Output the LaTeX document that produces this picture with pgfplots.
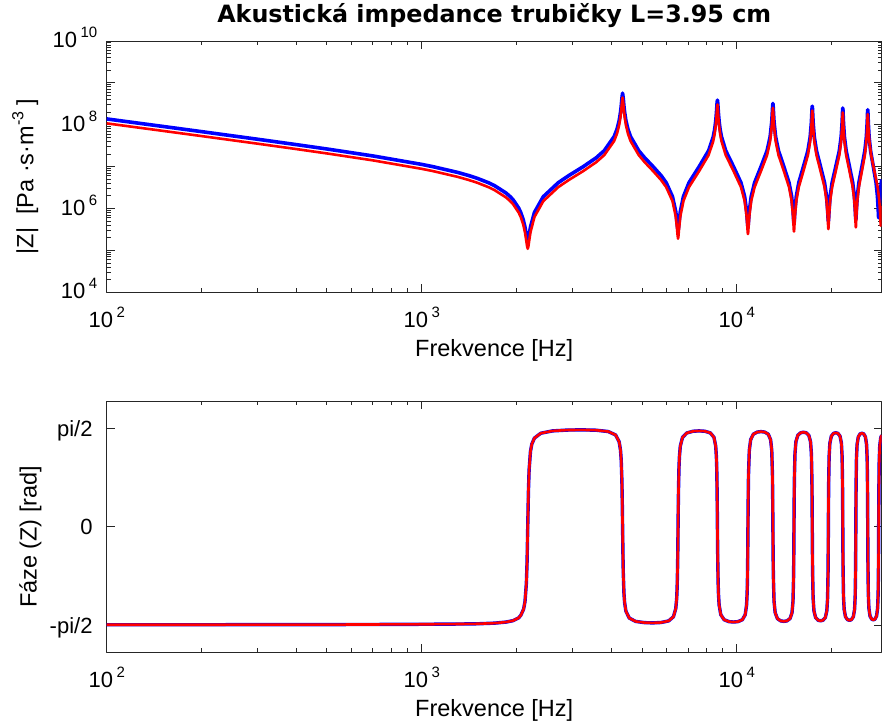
\documentclass[border=0pt]{standalone}
\usepackage{fontspec}
\setmainfont{Liberation Sans}
\newfontfamily\titlefont{DejaVu Sans}
\usepackage{pgfplots}
\usepackage{pgfplotstable}
\pgfplotsset{compat=1.18}

% |Z| is stored as log10 of the value (10^4 ... 10^10)
\pgfplotstableread{
f L
100 8.1396
150 7.9626
200 7.8363
300 7.6563
400 7.5259
500 7.4218
700 7.2557
1000 7.0536
1085 7.0000
1300 6.8626
1410.5 6.7873
1500 6.7218
1627.5 6.6173
1700 6.5490
1850 6.3727
1909.6 6.2823
1950 6.2083
2030 6.0136
2061.5 5.9063
2100 5.7292
2126.6 5.5552
2148.3 5.3698
2160 5.2748
2170 5.2400
2180 5.2748
2191.7 5.3698
2213.4 5.5552
2278.5 5.9063
2430.4 6.2823
2712.5 6.6173
2929.5 6.7873
3255 7.0000
3580.5 7.2127
3797.5 7.3827
4079.6 7.7177
4166.4 7.8943
4231.5 8.0935
4274.9 8.2983
4296.6 8.4438
4318.3 8.6280
4340 8.7560
4361.7 8.6280
4383.4 8.4438
4405.1 8.2983
4448.5 8.0935
4513.6 7.8943
4600.4 7.7177
4882.5 7.3827
5099.5 7.2127
5425 7.0000
5750.5 6.7873
5967.5 6.6185
6249.6 6.2859
6401.5 5.9258
6466.6 5.6393
6488.3 5.5320
6510 5.4800
6531.7 5.5320
6553.4 5.6393
6618.5 5.9258
6770.4 6.2859
7052.5 6.6185
7595 7.0000
8137.5 7.3819
8419.6 7.7156
8506.4 7.8897
8571.5 8.0820
8614.9 8.2700
8636.6 8.3915
8658.3 8.5212
8680 8.5900
8701.7 8.5212
8723.4 8.3915
8745.1 8.2700
8788.5 8.0820
8853.6 7.8897
8940.4 7.7156
9222.5 7.3819
9765 7.0000
10307.5 6.6190
10589.6 6.2886
10741.5 5.9398
10806.6 5.6875
10828.3 5.6062
10850 5.5700
10871.7 5.6062
10893.4 5.6875
10958.5 5.9398
11110.4 6.2886
11392.5 6.6190
11935 7.0000
12477.5 7.3815
12759.6 7.7139
12911.5 8.0729
12976.6 8.3558
12998.3 8.4601
13020 8.5100
13041.7 8.4601
13063.4 8.3558
13128.5 8.0729
13280.4 7.7139
13562.5 7.3815
14105 7.0000
14647.5 6.6196
14929.6 6.2916
15081.5 5.9543
15146.6 5.7310
15168.3 5.6669
15190 5.6400
15211.7 5.6669
15233.4 5.7310
15298.5 5.9543
15450.4 6.2916
15732.5 6.6196
16275 7.0000
16817.5 7.3811
17099.6 7.7119
17251.5 8.0630
17316.6 8.3213
17338.3 8.4069
17360 8.4450
17381.7 8.4069
17403.4 8.3213
17468.5 8.0630
17620.4 7.7119
17902.5 7.3811
18445 7.0000
18987.5 6.6203
19269.6 6.2950
19421.5 5.9699
19486.6 5.7719
19508.3 5.7203
19530 5.7000
19551.7 5.7203
19573.4 5.7719
19638.5 5.9699
19790.4 6.2950
20072.5 6.6203
20615 7.0000
21157.5 7.3808
21439.6 7.7102
21591.5 8.0546
21656.6 8.2949
21678.3 8.3687
21700 8.4000
21721.7 8.3687
21743.4 8.2949
21808.5 8.0546
21960.4 7.7102
22242.5 7.3808
22785 7.0000
23327.5 6.6210
23609.6 6.2978
23761.5 5.9823
23826.6 5.8017
23848.3 5.7574
23870 5.7400
23891.7 5.7574
23913.4 5.8017
23978.5 5.9823
24130.4 6.2978
24412.5 6.6210
24955 7.0000
25497.5 7.3804
25779.6 7.7084
25931.5 8.0457
25996.6 8.2690
26018.3 8.3331
26040 8.3600
26061.7 8.3331
26083.4 8.2690
26148.5 8.0457
26300.4 7.7084
26582.5 7.3804
27125 7.0000
27667.5 6.6218
27949.6 6.3012
28101.5 5.9963
28166.6 5.8325
28188.3 5.7946
28210 5.7800
28231.7 5.7946
28253.4 5.8325
28318.5 5.9963
28470.4 6.3012
28752.5 6.6218
28840 6.6938
}\magblue

\pgfplotstableread{
f L
100 8.0336
150 7.8566
200 7.7303
300 7.5503
400 7.4199
500 7.3158
700 7.1497
1000 6.9476
1085 6.8940
1300 6.7566
1410.5 6.6813
1500 6.6158
1627.5 6.5113
1700 6.4430
1850 6.2667
1909.6 6.1757
1950 6.1014
2030 5.9054
2061.5 5.7968
2100 5.6150
2126.6 5.4306
2148.3 5.2171
2160 5.0916
2170 5.0400
2180 5.0916
2191.7 5.2171
2213.4 5.4306
2278.5 5.7968
2430.4 6.1757
2712.5 6.5113
2929.5 6.6813
3255 6.8940
3580.5 7.1067
3797.5 7.2767
4079.6 7.6117
4166.4 7.7883
4231.5 7.9875
4274.9 8.1923
4296.6 8.3378
4318.3 8.5220
4340 8.6500
4361.7 8.5220
4383.4 8.3378
4405.1 8.1923
4448.5 7.9875
4513.6 7.7883
4600.4 7.6117
4882.5 7.2767
5099.5 7.1067
5425 6.8940
5750.5 6.6813
5967.5 6.5123
6249.6 6.1780
6401.5 5.8097
6466.6 5.4930
6488.3 5.3553
6510 5.2800
6531.7 5.3553
6553.4 5.4930
6618.5 5.8097
6770.4 6.1780
7052.5 6.5123
7595 6.8940
8137.5 7.2759
8419.6 7.6096
8506.4 7.7837
8571.5 7.9760
8614.9 8.1640
8636.6 8.2855
8658.3 8.4152
8680 8.4840
8701.7 8.4152
8723.4 8.2855
8745.1 8.1640
8788.5 7.9760
8853.6 7.7837
8940.4 7.6096
9222.5 7.2759
9765 6.8940
10307.5 6.5130
10589.6 6.1803
10741.5 5.8218
10806.6 5.5410
10828.3 5.4383
10850 5.3900
10871.7 5.4383
10893.4 5.5410
10958.5 5.8218
11110.4 6.1803
11392.5 6.5130
11935 6.8940
12477.5 7.2755
12759.6 7.6079
12911.5 7.9669
12976.6 8.2498
12998.3 8.3541
13020 8.4040
13041.7 8.3541
13063.4 8.2498
13128.5 7.9669
13280.4 7.6079
13562.5 7.2755
14105 6.8940
14647.5 6.5129
14929.6 6.1821
15081.5 5.8310
15146.6 5.5727
15168.3 5.4871
15190 5.4500
15211.7 5.4871
15233.4 5.5727
15298.5 5.8310
15450.4 6.1821
15732.5 6.5129
16275 6.8940
16817.5 7.2751
17099.6 7.6059
17251.5 7.9570
17316.6 8.2153
17338.3 8.3009
17360 8.3390
17381.7 8.3009
17403.4 8.2153
17468.5 7.9570
17620.4 7.6059
17902.5 7.2751
18445 6.8940
18987.5 6.5134
19269.6 6.1845
19421.5 5.8428
19486.6 5.6091
19508.3 5.5393
19530 5.5100
19551.7 5.5393
19573.4 5.6091
19638.5 5.8428
19790.4 6.1845
20072.5 6.5134
20615 6.8940
21157.5 7.2748
21439.6 7.6042
21591.5 7.9486
21656.6 8.1889
21678.3 8.2627
21700 8.2940
21721.7 8.2627
21743.4 8.1889
21808.5 7.9486
21960.4 7.6042
22242.5 7.2748
22785 6.8940
23327.5 6.5138
23609.6 6.1864
23761.5 5.8521
23826.6 5.6354
23848.3 5.5748
23870 5.5500
23891.7 5.5748
23913.4 5.6354
23978.5 5.8521
24130.4 6.1864
24412.5 6.5138
24955 6.8940
25497.5 7.2744
25779.6 7.6024
25931.5 7.9397
25996.6 8.1630
26018.3 8.2271
26040 8.2540
26066.1 8.2271
26092.2 8.1630
26170.5 7.9397
26353.2 7.6024
26692.5 7.2744
27345 6.8940
27997.6 6.5143
28336.9 6.1888
28519.6 5.8628
28597.9 5.6634
28624 5.6110
28650 5.5900
28676.1 5.6110
28693.4 5.6634
28758.5 5.8628
28840 6.0617
}\magred

\pgfplotstableread{
f p
100 -1.562
200 -1.561
300 -1.560
500 -1.559
700 -1.557
1000 -1.554
1300 -1.550
1500 -1.546
1700 -1.536
1850 -1.519
1950 -1.496
2030 -1.452
2061.5 -1.4135
2104.9 -1.3135
2126.6 -1.1945
2148.3 -0.9025
2159.15 -0.5649
2170 0
2180.85 0.5649
2191.7 0.9025
2213.4 1.1945
2235.1 1.3135
2278.5 1.4099
2387 1.4868
2604 1.5245
2929.5 1.5384
3255 1.5404
3580.5 1.5350
3906 1.5142
4123 1.4602
4231.5 1.3524
4274.9 1.2155
4296.6 1.0622
4318.3 0.7297
4329.15 0.4207
4340 0
4350.85 -0.4195
4361.7 -0.7285
4383.4 -1.0585
4405.1 -1.2108
4448.5 -1.3476
4557 -1.4548
4774 -1.5082
5099.5 -1.5280
5425 -1.5315
5750.5 -1.5255
6076 -1.5003
6293 -1.4347
6401.5 -1.3054
6445 -1.1440
6466.6 -0.9714
6488.3 -0.6320
6499.15 -0.3498
6510 0
6520.85 0.3261
6531.7 0.5949
6553.4 0.9340
6575.1 1.1120
6618.5 1.2821
6727 1.4216
6944 1.4919
7269.5 1.5187
7595 1.5244
7920.5 1.5187
8246 1.4919
8463 1.4216
8571.5 1.2821
8614.9 1.1120
8636.6 0.9340
8658.3 0.5949
8669.15 0.3261
8680 0
8690.85 -0.2898
8701.7 -0.5378
8723.4 -0.8729
8745.1 -1.0606
8788.5 -1.2461
8897 -1.4020
9114 -1.4814
9439.5 -1.5117
9765 -1.5182
10090.5 -1.5117
10416 -1.4814
10633 -1.4020
10741.5 -1.2461
10784.9 -1.0606
10806.6 -0.8729
10828.3 -0.5378
10839.15 -0.2898
10850 0
10871.7 0.4950
10893.4 0.8228
10958.5 1.2142
11067 1.3846
11284 1.4721
11609.5 1.5055
11935 1.5127
12260.5 1.5055
12586 1.4721
12803 1.3846
12911.5 1.2142
12976.6 0.8228
12998.3 0.4950
13020 0
13041.7 -0.4604
13063.4 -0.7814
13128.5 -1.1862
13237 -1.3687
13454 -1.4635
13779.5 -1.4999
14105 -1.5075
14430.5 -1.4999
14756 -1.4635
14973 -1.3687
15081.5 -1.1862
15146.6 -0.7814
15168.3 -0.4604
15190 0
15211.7 0.4327
15233.4 0.7455
15298.5 1.1604
15407 1.3541
15624 1.4556
15949.5 1.4946
16275 1.5029
16600.5 1.4946
16926 1.4556
17143 1.3541
17251.5 1.1604
17316.6 0.7455
17338.3 0.4327
17360 0
17381.7 -0.4095
17403.4 -0.7146
17468.5 -1.1374
17577 -1.3401
17794 -1.4482
18119.5 -1.4897
18445 -1.4985
18770.5 -1.4897
19096 -1.4482
19313 -1.3401
19421.5 -1.1374
19486.6 -0.7146
19508.3 -0.4095
19530 0
19551.7 0.3896
19573.4 0.6876
19638.5 1.1157
19747 1.3283
19964 1.4413
20289.5 1.4852
20615 1.4944
20940.5 1.4852
21266 1.4413
21483 1.3283
21591.5 1.1157
21656.6 0.6876
21678.3 0.3896
21700 0
21721.7 -0.3719
21743.4 -0.6623
21808.5 -1.0957
21917 -1.3165
22134 -1.4347
22459.5 -1.4807
22785 -1.4904
23110.5 -1.4807
23436 -1.4347
23653 -1.3165
23761.5 -1.0957
23826.6 -0.6623
23848.3 -0.3719
23870 0
23891.7 0.3569
23913.4 0.6408
23978.5 1.0771
24087 1.3054
24304 1.4285
24629.5 1.4766
24955 1.4868
25280.5 1.4766
25606 1.4285
25823 1.3054
25931.5 1.0771
25996.6 0.6408
26018.3 0.3569
26040 0
26061.7 -0.3434
26083.4 -0.6207
26148.5 -1.0595
26257 -1.2943
26474 -1.4225
26799.5 -1.4726
27125 -1.4832
27450.5 -1.4726
27776 -1.4225
27993 -1.2943
28101.5 -1.0595
28166.6 -0.6207
28188.3 -0.3434
28210 0
28231.7 0.3339
28253.4 0.6067
28318.5 1.0466
28427 1.2862
28644 1.4180
28840 1.4567
}\phase

\newcommand{\tpow}[1]{10\hspace{3.5pt}\raisebox{10pt}{\fontsize{15}{15}\selectfont #1}}

\pgfplotsset{
  matlab/.style={
    scale only axis, width=775pt, height=251.3pt,
    xmin=100, xmax=28840,
    xtick={100,1000,10000},
    xticklabels={\tpow{2},\tpow{3},\tpow{4}},
    minor xtick={200,300,400,500,600,700,800,900,2000,3000,4000,5000,6000,7000,8000,9000,20000},
    tick align=inside, major tick length=8pt, minor tick length=4pt,
    axis line style={line width=0.9pt, black!85},
    every tick/.style={line width=0.9pt, black!85},
    tick label style={font=\fontsize{22}{26}\selectfont},
    label style={font=\fontsize{23.5}{28}\selectfont},
    xticklabel style={anchor=base, yshift=-35pt, inner sep=0pt},
    xlabel={Frekvence [Hz]},
    xlabel style={at={([yshift=-64.3pt]axis description cs:0.5,0)}, anchor=base, inner sep=0pt},
    line join=round,
  },
}

\begin{document}
\begin{tikzpicture}
\path[use as bounding box] (-106.7pt,-430.7pt) rectangle (776.3pt,292.3pt);

\begin{axis}[
    xmode=log,
    matlab,
    at={(0pt,0pt)}, anchor=south west,
    ymin=4, ymax=10,
    ytick={4,5,6,7,8,9,10},
    yticklabels={\tpow{4},,\tpow{6},,\tpow{8},,\tpow{10}},
    minor ytick={4.30103,4.47712,4.60206,4.69897,4.77815,4.84510,4.90309,4.95424,
                 5.30103,5.47712,5.60206,5.69897,5.77815,5.84510,5.90309,5.95424,
                 6.30103,6.47712,6.60206,6.69897,6.77815,6.84510,6.90309,6.95424,
                 7.30103,7.47712,7.60206,7.69897,7.77815,7.84510,7.90309,7.95424,
                 8.30103,8.47712,8.60206,8.69897,8.77815,8.84510,8.90309,8.95424,
                 9.30103,9.47712,9.60206,9.69897,9.77815,9.84510,9.90309,9.95424},
    yticklabel style={anchor=base east, xshift=-9.3pt, yshift=-6.5pt, inner sep=0pt},
    ylabel={|Z|\ \ [Pa ·s·m\raisebox{10pt}{\fontsize{16}{16}\selectfont -3} ]},
    ylabel style={at={([xshift=-73.4pt]axis description cs:0,0.4608)}, anchor=base, inner sep=0pt},
    title={Akustická impedance trubičky L=3.95 cm},
    title style={at={([yshift=12.7pt]axis description cs:0.5,1)}, anchor=base, inner sep=0pt,
                 font=\fontsize{23.8}{28}\selectfont\titlefont\bfseries},
]
\addplot[blue, line width=3.6pt] table {\magblue};
\addplot[red, line width=2.6pt] table {\magred};
\end{axis}

\begin{axis}[
    xmode=log,
    matlab,
    at={(0pt,-360pt)}, anchor=south west,
    ymin=-2, ymax=2,
    ytick={-1.5708,0,1.5708},
    yticklabels={-pi/2,0,pi/2},
    yticklabel style={anchor=base east, xshift=-14pt, yshift=-8.3pt, inner sep=0pt},
    ylabel={Fáze (Z) [rad]},
    ylabel style={at={([xshift=-70pt]axis description cs:0,0.4597)}, anchor=base, inner sep=0pt},
]
\addplot[blue, line width=3.4pt] table {\phase};
\addplot[red, line width=2.6pt] table {\phase};
\end{axis}
\end{tikzpicture}
\end{document}
